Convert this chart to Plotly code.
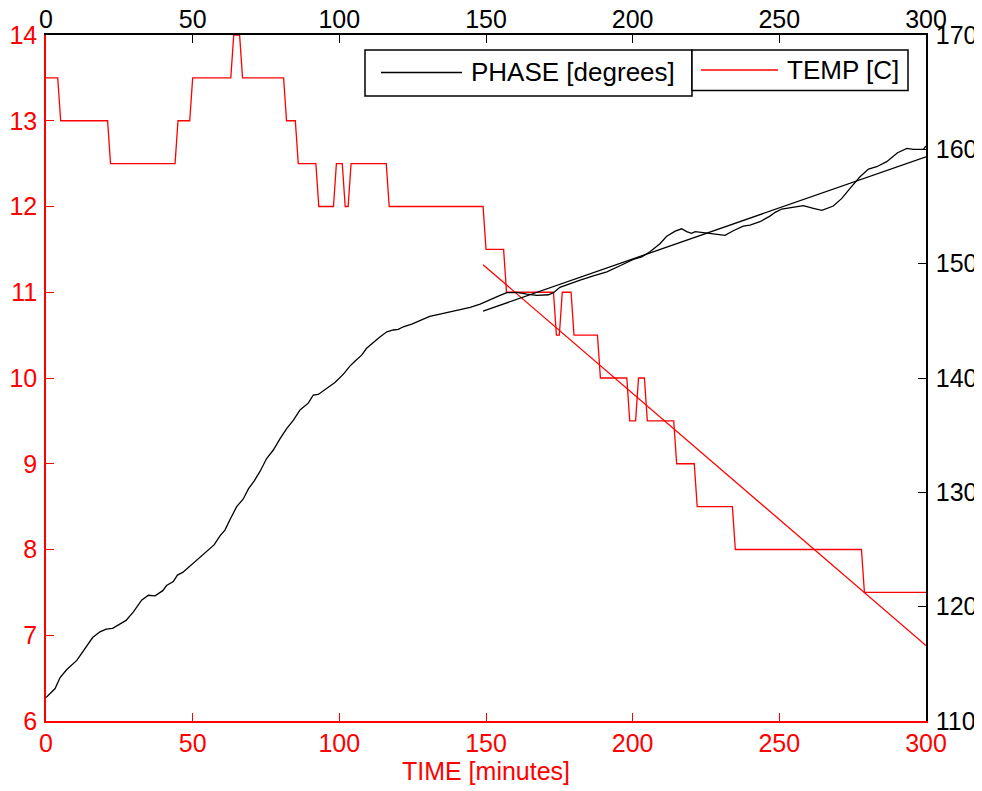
import plotly.graph_objects as go

# ---------------- data ----------------
TEMP_T = [0, 4, 5, 21, 22, 44, 45, 49, 50, 63, 64, 66, 67, 81, 82, 85, 86, 92, 93, 98, 99,
          101, 102, 103, 104, 116, 117, 149, 150, 156, 157, 173, 174, 175, 176, 179, 180,
          188, 189, 198, 199, 201, 202, 204, 205, 214, 215, 221, 222, 234, 235, 278, 279, 300]
TEMP_V = [13.5, 13.5, 13, 13, 12.5, 12.5, 13, 13, 13.5, 13.5, 14, 14, 13.5, 13.5, 13, 13, 12.5,
          12.5, 12, 12, 12.5, 12.5, 12, 12, 12.5, 12.5, 12, 12, 11.5, 11.5, 11, 11, 10.5, 10.5,
          11, 11, 10.5, 10.5, 10, 10, 9.5, 9.5, 10, 10, 9.5, 9.5, 9, 9, 8.5, 8.5, 8, 8, 7.5, 7.5]

PHASE_T = [0, 3.1, 4.8, 7.1, 10.5, 13.9, 15.9, 18.4, 20.5, 22.7, 25.2, 27.3, 29.8, 32.6, 34.9,
           37.2, 39.8, 41.1, 43.4, 44.8, 46.6, 49.7, 52.5, 54.8, 57.3, 59.3, 61, 62.7, 65, 67.2,
           69, 71, 73, 75.2, 77.5, 79.8, 82.1, 84.3, 86.6, 89.4, 91.1, 92.8, 95.7, 98.5, 101.4,
           103.6, 105.4, 107.6, 109.3, 111.4, 113.6, 116.2, 118.4, 120.1, 121.8, 124.7, 127.5,
           130.8, 134.3, 137.7, 141.1, 144.6, 148, 151.4, 154.8, 157.1, 160.5, 163.9, 167.3,
           171.3, 173, 175.2, 178.7, 182.1, 186.6, 191.2, 195.7, 200.2, 203.1, 205.9, 209.3,
           211.6, 214.5, 216.7, 218.4, 220.1, 221.3, 224.1, 227.5, 231.5, 234.3, 237.7, 240,
           243.4, 246.8, 248.6, 250.8, 254.2, 258.2, 261.6, 264.5, 268.4, 271.3, 274.1, 277.5,
           280.4, 283.2, 286.6, 290.3, 293.5, 295.7, 299.1, 300]
PHASE_V = [112.05, 112.84, 113.8, 114.5, 115.3, 116.5, 117.3, 117.8, 118.03, 118.1, 118.5,
           118.8, 119.55, 120.57, 121.0, 120.95, 121.4, 121.85, 122.2, 122.76, 123.0, 123.7,
           124.36, 124.86, 125.4, 126.2, 126.7, 127.6, 128.75, 129.4, 130.3, 131.0, 131.85,
           132.96, 133.7, 134.7, 135.6, 136.3, 137.2, 137.8, 138.5, 138.56, 139.1, 139.6,
           140.34, 141.04, 141.48, 142.0, 142.6, 143.08, 143.55, 144.04, 144.2, 144.25, 144.48,
           144.72, 145.03, 145.38, 145.59, 145.79, 146.0, 146.18, 146.47, 146.88, 147.23,
           147.46, 147.49, 147.34, 147.23, 147.28, 147.46, 147.93, 148.28, 148.57, 148.94,
           149.29, 149.82, 150.38, 150.6, 151.04, 151.75, 152.4, 152.85, 153.05, 152.8, 152.65,
           152.8, 152.7, 152.6, 152.47, 152.88, 153.29, 153.38, 153.67, 154.16, 154.49, 154.78,
           154.93, 155.07, 154.84, 154.66, 155.04, 155.71, 156.59, 157.6, 158.28, 158.48,
           158.92, 159.7, 160.09, 160.0, 160.0, 160.3]

TEMP_FIT_T = [149, 300]
TEMP_FIT_V = [11.32, 6.88]
PHASE_FIT_T = [149, 300]
PHASE_FIT_V = [145.85, 159.35]

X_TICKS = [0, 50, 100, 150, 200, 250, 300]
TEMP_TICKS = [6, 7, 8, 9, 10, 11, 12, 13, 14]
PHASE_TICKS = [110, 120, 130, 140, 150, 160, 170]

assert len(TEMP_T) == len(TEMP_V)
assert len(PHASE_T) == len(PHASE_V)

RED = "#ff0000"
BLACK = "#000000"
FONT = "Liberation Sans, Arial, sans-serif"
FS = 25

fig = go.Figure()
fig.add_trace(go.Scatter(x=TEMP_T, y=TEMP_V, mode="lines", line=dict(color=RED, width=1.3),
                         xaxis="x", yaxis="y", name="TEMP [C]"))
fig.add_trace(go.Scatter(x=TEMP_FIT_T, y=TEMP_FIT_V, mode="lines", line=dict(color=RED, width=1.3),
                         xaxis="x", yaxis="y", showlegend=False))
fig.add_trace(go.Scatter(x=PHASE_T, y=PHASE_V, mode="lines", line=dict(color=BLACK, width=1.3),
                         xaxis="x", yaxis="y2", name="PHASE [degrees]"))
fig.add_trace(go.Scatter(x=PHASE_FIT_T, y=PHASE_FIT_V, mode="lines", line=dict(color=BLACK, width=1.3),
                         xaxis="x", yaxis="y2", showlegend=False))
# invisible trace so the top axis is drawn
fig.add_trace(go.Scatter(x=[None], y=[None], xaxis="x2", yaxis="y", showlegend=False,
                         hoverinfo="skip"))

axis_common = dict(showgrid=False, zeroline=False, ticks="inside", ticklen=8, tickwidth=1.3,
                   showline=True, linewidth=1.5, automargin=False)

# the page body has an 8px margin, so the figure is sized to end at the window edge
fig.update_layout(
    template="none",
    width=974, height=783,
    margin=dict(l=38, r=56, t=27, b=70, pad=0),
    paper_bgcolor="white", plot_bgcolor="white",
    showlegend=False,
    font=dict(family=FONT, size=FS, color=BLACK),
    xaxis=dict(range=[0, 300], tickvals=X_TICKS, linecolor=RED, tickcolor=RED,
               tickfont=dict(color=RED, size=FS), side="bottom", anchor="y",
               ticklabelstandoff=-1,
               title=dict(text="TIME [minutes]", font=dict(color=RED, size=FS), standoff=2),
               **axis_common),
    xaxis2=dict(range=[0, 300], tickvals=X_TICKS, linecolor=BLACK, tickcolor=BLACK,
                tickfont=dict(color=BLACK, size=FS), side="top", overlaying="x", anchor="y",
                ticklabelstandoff=-5,
                **axis_common),
    yaxis=dict(range=[6, 14], tickvals=TEMP_TICKS, linecolor=RED, tickcolor=RED,
               tickfont=dict(color=RED, size=FS), side="left", anchor="x",
               ticklabelstandoff=2,
               **axis_common),
    yaxis2=dict(range=[110, 170], tickvals=PHASE_TICKS, linecolor=BLACK, tickcolor=BLACK,
                tickfont=dict(color=BLACK, size=FS), side="right", overlaying="y", anchor="x",
                ticklabelstandoff=3,
                **axis_common),
)

# ---------------- legend boxes (drawn manually) ----------------
# helpers convert positions measured in window pixels into paper fractions
def px_x(p):
    return (p - 46) / 880.0

def px_y(p):
    return (721 - p) / 686.0

shapes = [
    dict(type="rect", xref="paper", yref="paper", x0=px_x(365), x1=px_x(692), y0=px_y(96), y1=px_y(50),
         line=dict(color=BLACK, width=1.5), fillcolor="white", layer="above"),
    dict(type="rect", xref="paper", yref="paper", x0=px_x(692), x1=px_x(908), y0=px_y(90.5), y1=px_y(50),
         line=dict(color=BLACK, width=1.5), fillcolor="white", layer="above"),
    dict(type="line", xref="paper", yref="paper", x0=px_x(381), x1=px_x(462), y0=px_y(72.5), y1=px_y(72.5),
         line=dict(color=BLACK, width=1.3), layer="above"),
    dict(type="line", xref="paper", yref="paper", x0=px_x(701), x1=px_x(778), y0=px_y(70), y1=px_y(70),
         line=dict(color=RED, width=1.3), layer="above"),
]
annotations = [
    dict(text="PHASE [degrees]", xref="paper", yref="paper", x=px_x(469), y=px_y(72.5),
         xanchor="left", yanchor="middle", showarrow=False, font=dict(size=26, color=BLACK)),
    dict(text="TEMP [C]", xref="paper", yref="paper", x=px_x(785), y=px_y(70),
         xanchor="left", yanchor="middle", showarrow=False, font=dict(size=26, color=BLACK)),
]
fig.update_layout(shapes=shapes, annotations=annotations)

fig.write_html("out.html")
